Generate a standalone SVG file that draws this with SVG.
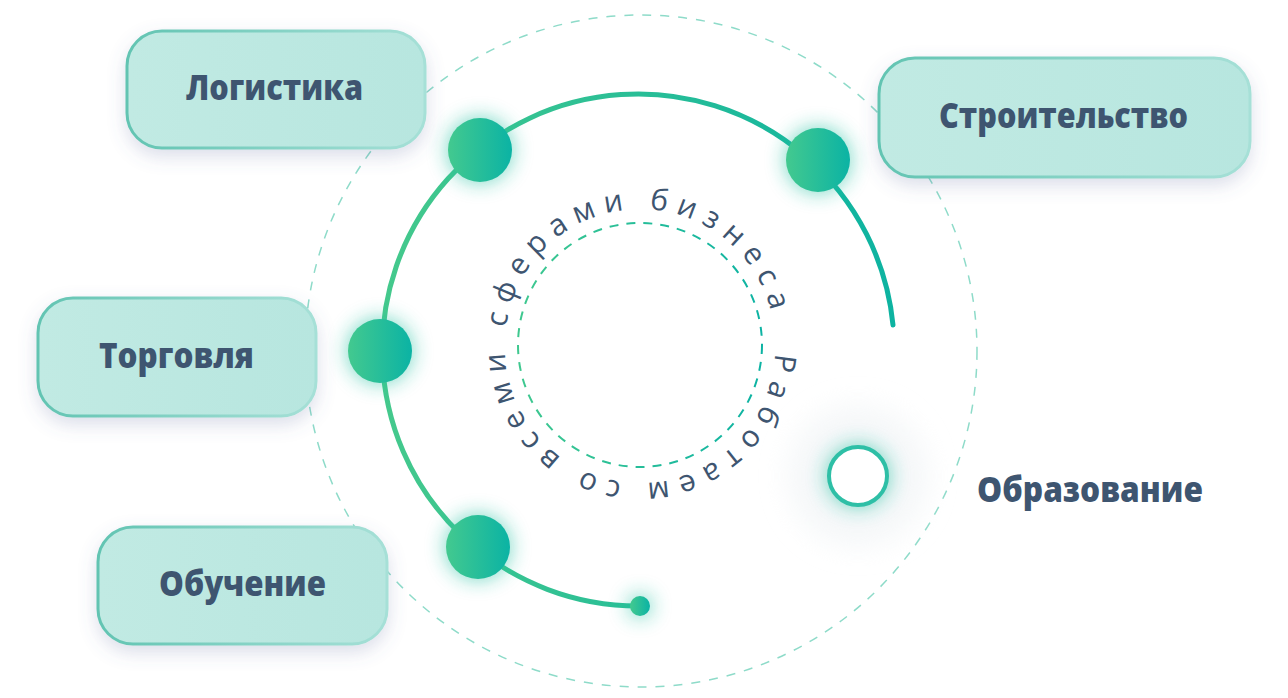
<svg xmlns="http://www.w3.org/2000/svg" width="1288" height="698" viewBox="0 0 1288 698">
  <defs>
    <linearGradient id="boxFill" x1="0" y1="0" x2="1" y2="0">
      <stop offset="0" stop-color="#c1eae3"/>
      <stop offset="1" stop-color="#b7e6df"/>
    </linearGradient>
    <linearGradient id="boxStroke" x1="0" y1="0" x2="1" y2="0">
      <stop offset="0" stop-color="#62c4b2"/>
      <stop offset="1" stop-color="#a6e0d7"/>
    </linearGradient>
    <linearGradient id="dotFill" x1="0" y1="0" x2="1" y2="0">
      <stop offset="0" stop-color="#43c98f"/>
      <stop offset="1" stop-color="#0bb3a4"/>
    </linearGradient>
    <linearGradient id="arcStroke" gradientUnits="userSpaceOnUse" x1="380" y1="0" x2="895" y2="0">
      <stop offset="0" stop-color="#45c98c"/>
      <stop offset="1" stop-color="#0db3a1"/>
    </linearGradient>
    <linearGradient id="innerStroke" gradientUnits="userSpaceOnUse" x1="518" y1="0" x2="762" y2="0">
      <stop offset="0" stop-color="#3fc88f"/>
      <stop offset="1" stop-color="#0db3a3"/>
    </linearGradient>
    <filter id="boxShadow" x="-20%" y="-30%" width="140%" height="170%">
      <feDropShadow dx="0" dy="7" stdDeviation="9" flood-color="#5b6b9c" flood-opacity="0.22"/>
    </filter>
    <filter id="glow" x="-100%" y="-100%" width="300%" height="300%">
      <feGaussianBlur stdDeviation="10"/>
    </filter>
    <filter id="haze" x="-50%" y="-50%" width="200%" height="200%">
      <feGaussianBlur stdDeviation="14"/>
    </filter>
    <path id="textRing" d="M 774.8 353.1 A 135 135 0 1 1 505.2 338.9 A 135 135 0 1 1 774.8 353.1"/>
    <style>
      .box { fill: url(#boxFill); stroke: url(#boxStroke); stroke-width: 3; filter: url(#boxShadow); }
      .label { font-family: "Open Sans", "Liberation Sans", sans-serif; font-weight: 800; font-size: 36px; fill: #3e5570; text-anchor: start; }
      .dot { fill: url(#dotFill); }
      .dotGlow { fill: #20bfa0; opacity: 0.6; filter: url(#glow); }
      .ring { font-family: "Open Sans", "Liberation Sans", sans-serif; font-size: 30px; fill: #3e5570; letter-spacing: 8.5px; }
    </style>
  </defs>

  <rect width="1288" height="698" fill="#ffffff"/>

  <!-- guide rings -->
  <g id="rings">
    <circle cx="641" cy="351" r="336" fill="none" stroke="#8edbc9" stroke-width="1.5" stroke-dasharray="9 9"/>
    <circle cx="640" cy="345" r="122" fill="none" stroke="url(#innerStroke)" stroke-width="2" stroke-dasharray="9 8"/>
    <text class="ring"><textPath href="#textRing">Работаем со всеми сферами бизнеса</textPath></text>
  </g>

  <!-- main arc with its end point -->
  <g id="connectors">
    <path d="M 640 606 A 256 256 0 1 1 893 325" fill="none" stroke="url(#arcStroke)" stroke-width="5" stroke-linecap="round"/>
    <circle class="dotGlow" cx="640" cy="606" r="12"/>
    <circle class="dot" cx="640" cy="606" r="10"/>
  </g>

  <!-- Логистика -->
  <g id="node-logistika">
    <rect class="box" x="127" y="31" width="298" height="117" rx="35"/>
    <text class="label" x="186" y="100" textLength="177" lengthAdjust="spacingAndGlyphs">Логистика</text>
    <circle class="dotGlow" cx="480" cy="150" r="33"/>
    <circle class="dot" cx="480" cy="150" r="32"/>
  </g>

  <!-- Строительство -->
  <g id="node-stroitelstvo">
    <rect class="box" x="879" y="58" width="371" height="119" rx="36"/>
    <text class="label" x="939" y="128" textLength="249" lengthAdjust="spacingAndGlyphs">Строительство</text>
    <circle class="dotGlow" cx="818" cy="160" r="33"/>
    <circle class="dot" cx="818" cy="160" r="32"/>
  </g>

  <!-- Торговля -->
  <g id="node-torgovlya">
    <rect class="box" x="38" y="298" width="278" height="118" rx="35"/>
    <text class="label" x="99" y="368" textLength="155" lengthAdjust="spacingAndGlyphs">Торговля</text>
    <circle class="dotGlow" cx="380" cy="351" r="33"/>
    <circle class="dot" cx="380" cy="351" r="32"/>
  </g>

  <!-- Обучение -->
  <g id="node-obuchenie">
    <rect class="box" x="98" y="527" width="289" height="117" rx="35"/>
    <text class="label" x="159" y="596" textLength="167" lengthAdjust="spacingAndGlyphs">Обучение</text>
    <circle class="dotGlow" cx="478" cy="547" r="33"/>
    <circle class="dot" cx="478" cy="547" r="32"/>
  </g>

  <!-- Образование -->
  <g id="node-obrazovanie">
    <circle cx="858" cy="476" r="70" fill="#eef2f4" opacity="0.6" filter="url(#haze)"/>
    <circle class="dotGlow" cx="858" cy="476" r="32"/>
    <circle cx="858" cy="476" r="29" fill="#ffffff" stroke="#2ebfa6" stroke-width="4"/>
    <text class="label" x="977" y="502" textLength="226" lengthAdjust="spacingAndGlyphs">Образование</text>
  </g>
</svg>
